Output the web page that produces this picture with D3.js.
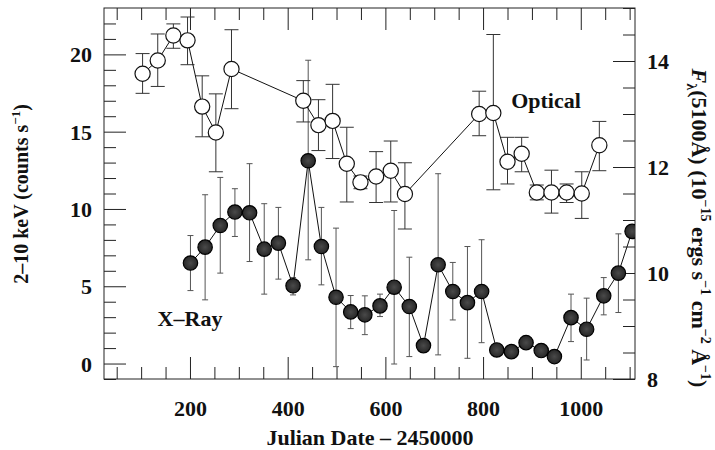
<!DOCTYPE html>
<html>
<head>
<meta charset="utf-8">
<script src="https://cdn.jsdelivr.net/npm/d3@7/dist/d3.min.js"></script>
<style>
  html, body { margin: 0; padding: 0; background: #fff; }
  svg text { font-family: "Liberation Serif", "Times New Roman", serif; font-weight: bold; fill: #111; }
</style>
</head>
<body>
<svg id="chart" width="715" height="450"></svg>
<script>
// X-ray light curve (2-10 keV count rate) with upper/lower error-bar ends
const xrayDays = [201, 231, 262, 292, 322, 352, 381, 411, 442, 469, 499, 529, 558, 589, 618, 649,
                  678, 708, 738, 768, 797, 828, 858, 888, 919, 946, 980, 1012, 1047, 1077, 1105];
const xrayRate = [6.50, 7.53, 8.93, 9.80, 9.75, 7.40, 7.79, 5.03, 13.12, 7.57, 4.29, 3.34, 3.15, 3.73, 4.94, 3.69,
                  1.16, 6.39, 4.66, 3.94, 4.66, 0.88, 0.77, 1.35, 0.84, 0.45, 2.97, 2.22, 4.38, 5.85, 8.55];
const xrayHi   = [8.28, 10.92, 12.04, 11.31, 12.93, 10.34, 10.10, 5.56, 19.62, 10.10, 8.76, 4.40, 4.38, 4.49, 9.90, 6.88,
                  1.45, 12.28, 6.54, 7.57, 8.01, 1.15, 1.05, 1.65, 1.10, 0.75, 4.49, 4.23, 5.56, 8.39, 8.95];
const xrayLo   = [4.72, 4.12, 5.85, 8.22, 6.60, 4.49, 5.46, 4.44, 6.71, 5.09, -0.20, 2.26, 1.87, 3.04, -0.03, 0.45,
                  0.87, 0.56, 2.82, 0.34, 1.35, 0.60, 0.50, 1.05, 0.55, 0.15, 1.42, 0.23, 3.15, 3.30, 8.15];

// Optical continuum flux at 5100 Å with error-bar ends
const optDays = [103, 134, 166, 195, 225, 253, 285, 432, 463, 492, 521, 549, 581, 611, 640,
                 792, 821, 850, 879, 910, 940, 971, 1002, 1038];
const optFlux = [13.76, 14.01, 14.48, 14.39, 13.14, 12.65, 13.85, 13.25, 12.79, 12.87, 12.06, 11.71, 11.82, 11.93, 11.49,
                 13.00, 13.02, 12.10, 12.25, 11.52, 11.52, 11.52, 11.50, 12.41];
const optHi   = [14.14, 14.51, 14.70, 14.83, 13.72, 13.38, 14.59, 13.63, 13.27, 13.56, 12.75, 11.83, 12.29, 12.49, 12.08,
                 13.43, 14.50, 12.56, 12.56, 11.66, 11.94, 11.68, 11.91, 12.86];
const optLo   = [13.39, 13.52, 14.24, 13.93, 12.57, 11.91, 13.10, 12.85, 12.31, 12.16, 11.34, 11.59, 11.33, 11.34, 10.83,
                 12.59, 11.57, 11.68, 11.91, 11.38, 11.13, 11.33, 11.03, 11.93];

// Axis ticks
const xMajor = [200, 400, 600, 800, 1000];
const xMinor = d3.range(50, 1101, 50);
const yLeftMajor = [0, 5, 10, 15, 20];
const yLeftMinor = d3.range(-1, 23, 1);
const yRightMajor = [8, 10, 12, 14];
const yRightMinor = d3.range(8, 15.01, 0.5);

const svg = d3.select("#chart");
const L = 104, R = 635, T = 8, B = 379;

const x  = d3.scaleLinear().domain([24, 1111]).range([L, R]);
const yL = d3.scaleLinear().domain([-1, 23]).range([B, T]);
const yR = d3.scaleLinear().domain([8, 15]).range([B, T]);

const MAJ = 22, MIN = 12;

// shaded fill for the X-ray markers
const grad = svg.append("defs").append("radialGradient").attr("id", "dotfill");
grad.append("stop").attr("offset", "0%").attr("stop-color", "#4a4a4a");
grad.append("stop").attr("offset", "100%").attr("stop-color", "#262626");

function styleAxis(g) {
  g.select(".domain").remove();
  g.selectAll(".tick line").attr("stroke", "#222").attr("stroke-width", 1);
  g.selectAll(".tick text").attr("font-size", 22).attr("fill", "#111");
}

// bottom
svg.append("g").attr("transform", `translate(0,${B})`)
  .call(d3.axisBottom(x).tickValues(xMinor.filter(v => !xMajor.includes(v))).tickSize(-MIN).tickFormat(""))
  .call(styleAxis);
svg.append("g").attr("transform", `translate(0,${B})`)
  .call(d3.axisBottom(x).tickValues(xMajor).tickSize(-MAJ).tickPadding(24).tickFormat(d3.format("d")))
  .call(styleAxis)
  .call(g => g.selectAll(".tick text").attr("dy", null).attr("y", 37));
// top
svg.append("g").attr("transform", `translate(0,${T})`)
  .call(d3.axisTop(x).tickValues(xMinor.filter(v => !xMajor.includes(v))).tickSize(-MIN).tickFormat(""))
  .call(styleAxis);
svg.append("g").attr("transform", `translate(0,${T})`)
  .call(d3.axisTop(x).tickValues(xMajor).tickSize(-MAJ).tickFormat(""))
  .call(styleAxis);
// left
svg.append("g").attr("transform", `translate(${L},0)`)
  .call(d3.axisLeft(yL).tickValues(yLeftMinor.filter(v => !yLeftMajor.includes(v))).tickSize(-MIN).tickFormat(""))
  .call(styleAxis);
svg.append("g").attr("transform", `translate(${L},0)`)
  .call(d3.axisLeft(yL).tickValues(yLeftMajor).tickSize(-MAJ).tickPadding(12).tickFormat(d3.format("d")))
  .call(styleAxis)
  .call(g => g.selectAll(".tick text").attr("dy", "0.34em"));
// right
svg.append("g").attr("transform", `translate(${R},0)`)
  .call(d3.axisRight(yR).tickValues(yRightMinor.filter(v => !yRightMajor.includes(v))).tickSize(-MIN).tickFormat(""))
  .call(styleAxis);
svg.append("g").attr("transform", `translate(${R},0)`)
  .call(d3.axisRight(yR).tickValues(yRightMajor).tickSize(-MAJ).tickPadding(12).tickFormat(d3.format("d")))
  .call(styleAxis)
  .call(g => g.selectAll(".tick text").attr("dy", "0.34em"));

// frame
svg.append("rect").attr("x", L).attr("y", T).attr("width", R - L).attr("height", B - T)
  .attr("fill", "none").attr("stroke", "#222").attr("stroke-width", 1);

svg.append("clipPath").attr("id", "plot-clip")
  .append("rect").attr("x", L).attr("y", T).attr("width", R - L).attr("height", B - T);
const plot = svg.append("g").attr("clip-path", "url(#plot-clip)");

const xray = xrayDays.map((d, i) => ({ d, v: xrayRate[i], hi: xrayHi[i], lo: xrayLo[i] }));
const opt  = optDays.map((d, i) => ({ d, v: optFlux[i], hi: optHi[i], lo: optLo[i] }));

function errorBars(g, data, y, cap, color) {
  const e = g.append("g").attr("stroke", color).attr("stroke-width", 1).attr("fill", "none");
  e.selectAll("line.v").data(data).join("line").attr("class", "v")
    .attr("x1", p => x(p.d)).attr("x2", p => x(p.d))
    .attr("y1", p => y(p.hi)).attr("y2", p => y(p.lo));
  e.selectAll("line.t").data(data).join("line").attr("class", "t")
    .attr("x1", p => x(p.d) - cap).attr("x2", p => x(p.d) + cap)
    .attr("y1", p => y(p.hi)).attr("y2", p => y(p.hi));
  e.selectAll("line.b").data(data).join("line").attr("class", "b")
    .attr("x1", p => x(p.d) - cap).attr("x2", p => x(p.d) + cap)
    .attr("y1", p => y(p.lo)).attr("y2", p => y(p.lo));
}

errorBars(plot, xray, yL, 3, "#555");
errorBars(plot, opt, yR, 7, "#333");

const lineX = d3.line().x(p => x(p.d)).y(p => yL(p.v));
const lineO = d3.line().x(p => x(p.d)).y(p => yR(p.v));

plot.append("path").datum(xray).attr("d", lineX).attr("fill", "none").attr("stroke", "#111").attr("stroke-width", 1);
plot.append("path").datum(opt).attr("d", lineO).attr("fill", "none").attr("stroke", "#111").attr("stroke-width", 1);

plot.selectAll("circle.x").data(xray).join("circle").attr("class", "x")
  .attr("cx", p => x(p.d)).attr("cy", p => yL(p.v)).attr("r", 7.2)
  .attr("fill", "url(#dotfill)").attr("stroke", "#000").attr("stroke-width", 1.2);

plot.selectAll("circle.o").data(opt).join("circle").attr("class", "o")
  .attr("cx", p => x(p.d)).attr("cy", p => yR(p.v)).attr("r", 7.6)
  .attr("fill", "#fff").attr("stroke", "#111").attr("stroke-width", 1.2);

// series labels
svg.append("text").attr("x", 546).attr("y", 108).attr("text-anchor", "middle").attr("font-size", 22).text("Optical");
svg.append("text").attr("x", 190).attr("y", 326).attr("text-anchor", "middle").attr("font-size", 22).text("X–Ray");

// axis titles
svg.append("text").attr("x", 370).attr("y", 445).attr("text-anchor", "middle").attr("font-size", 22)
  .text("Julian Date – 2450000");

const lt = svg.append("text").attr("transform", "translate(28,194) rotate(-90)")
  .attr("text-anchor", "middle").attr("font-size", 20);
lt.append("tspan").text("2–10 keV (counts s");
lt.append("tspan").attr("dy", -8).attr("font-size", 13).text("−1");
lt.append("tspan").attr("dy", 8).text(")");

const rt = svg.append("text").attr("transform", "translate(692,228) rotate(90)")
  .attr("text-anchor", "middle").attr("font-size", 22);
rt.append("tspan").attr("font-style", "italic").text("F");
rt.append("tspan").attr("dy", 5).attr("font-size", 14).text("λ");
rt.append("tspan").attr("dy", -5).text("(5100Å) (10");
rt.append("tspan").attr("dy", -9).attr("font-size", 14).text("−15");
rt.append("tspan").attr("dy", 9).text(" ergs s");
rt.append("tspan").attr("dy", -9).attr("font-size", 14).text("−1");
rt.append("tspan").attr("dy", 9).text(" cm");
rt.append("tspan").attr("dy", -9).attr("font-size", 14).text("−2");
rt.append("tspan").attr("dy", 9).text(" Å");
rt.append("tspan").attr("dy", -9).attr("font-size", 14).text("−1");
rt.append("tspan").attr("dy", 9).text(")");
</script>
</body>
</html>
